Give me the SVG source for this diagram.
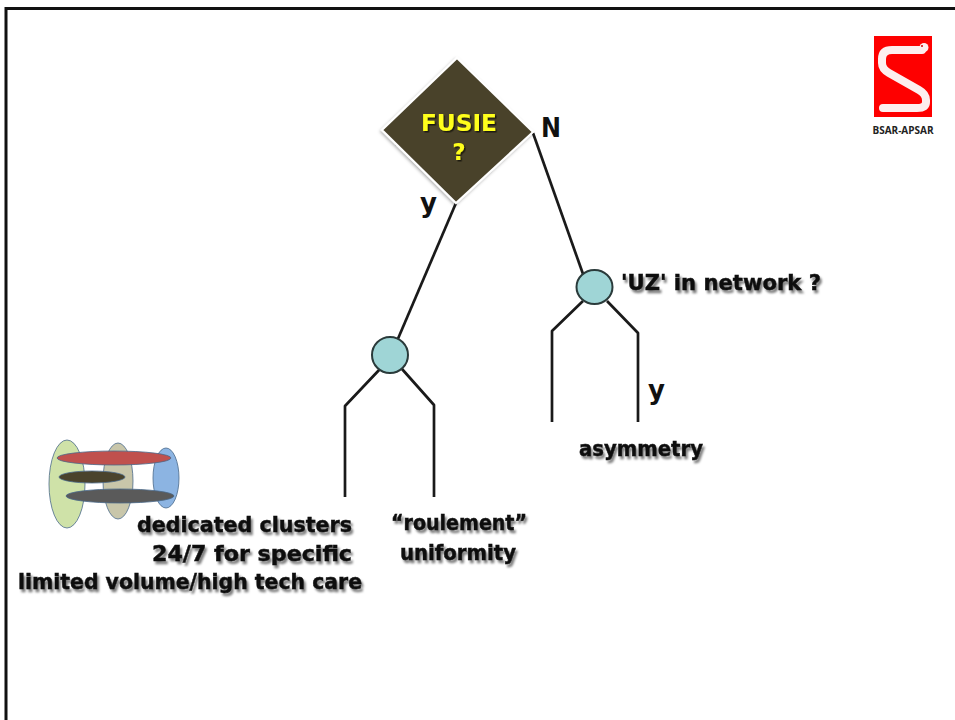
<svg xmlns="http://www.w3.org/2000/svg" width="955" height="720" viewBox="0 0 955 720">
<defs>
<style>
.line{fill:none;stroke:#1a1a1a;stroke-width:2.7;stroke-linejoin:round}
.t{font-family:"DejaVu Sans",sans-serif;font-weight:bold;font-size:22px;fill:#111;stroke:#111;stroke-width:.5;filter:url(#sh)}
.l{font-family:"DejaVu Sans",sans-serif;font-weight:bold;font-size:26px;fill:#111}
.f{font-family:"DejaVu Sans",sans-serif;font-weight:bold;font-size:23px;fill:#ffff1a;filter:url(#fs)}
.c{fill:#9fd5d6;stroke:#2a3a3a;stroke-width:2}
</style>
<filter id="sh" x="-5%" y="-30%" width="110%" height="170%"><feDropShadow dx="2" dy="3" stdDeviation="0.9" flood-color="#000" flood-opacity="0.5"/></filter>
<filter id="fs" x="-10%" y="-30%" width="120%" height="170%"><feDropShadow dx="1.500" dy="1.500" stdDeviation="0.7" flood-color="#000" flood-opacity="0.6"/></filter>
<filter id="dsh" x="-10%" y="-10%" width="120%" height="120%"><feDropShadow dx="-1" dy="1.500" stdDeviation="1.5" flood-color="#000" flood-opacity="0.3"/></filter>
</defs>
<rect id="frame" x="6" y="8.500" width="960" height="730" fill="#fff" stroke="#111" stroke-width="3"/>
<g id="connectors">
<path class="line" d="M456 203L397 341"/>
<path class="line" d="M533 133L583 274"/>
<path class="line" d="M380 369L345 406V497"/>
<path class="line" d="M402 369L434 405V497"/>
<path class="line" d="M583 301L552 331V422"/>
<path class="line" d="M607 301L638 333V422"/>
</g>
<g id="fusie">
<path d="M457 58L533 132L456 203L382 130Z" fill="#4a432c" stroke="#fff" stroke-width="2" filter="url(#dsh)"/>
<text class="f" x="421" y="131" textLength="76" lengthAdjust="spacingAndGlyphs">FUSIE</text>
<text class="f" x="459" y="160" text-anchor="middle">?</text>
</g>
<g id="node-left"><circle class="c" cx="390" cy="355" r="18"/></g>
<g id="node-right"><ellipse class="c" cx="594.500" cy="287" rx="18" ry="17"/></g>
<g id="labels">
<text class="l" x="541" y="137" textLength="20" lengthAdjust="spacingAndGlyphs">N</text>
<text class="l" x="420" y="212">y</text>
<text class="l" x="648" y="399">y</text>
<text class="t" x="621" y="290" textLength="200" lengthAdjust="spacingAndGlyphs">'UZ' in network ?</text>
<text class="t" x="579" y="456" textLength="124" lengthAdjust="spacingAndGlyphs">asymmetry</text>
<text class="t" x="391" y="530" textLength="136" lengthAdjust="spacingAndGlyphs">“roulement”</text>
<text class="t" x="400" y="560" textLength="116" lengthAdjust="spacingAndGlyphs">uniformity</text>
<text class="t" x="137" y="532" textLength="215" lengthAdjust="spacingAndGlyphs">dedicated clusters</text>
<text class="t" x="152" y="561" textLength="200" lengthAdjust="spacingAndGlyphs">24/7 for specific</text>
<text class="t" x="18" y="589" textLength="344" lengthAdjust="spacingAndGlyphs">limited volume/high tech care</text>
</g>
<g id="clusters" stroke="#4a6a8a" stroke-width="0.8">
<ellipse cx="67" cy="484" rx="18" ry="44" fill="#cfe2a8"/>
<ellipse cx="118" cy="481" rx="15" ry="38" fill="#c8c6aa"/>
<ellipse cx="166" cy="478" rx="13" ry="30" fill="#8cb4e2"/>
<ellipse cx="114" cy="458" rx="57" ry="7" fill="#c0504d"/>
<ellipse cx="92" cy="477" rx="33" ry="6" fill="#4a432c"/>
<ellipse cx="120" cy="496" rx="54" ry="7" fill="#5a5a5a"/>
</g>
<g id="logo">
<rect x="874" y="36" width="58" height="81" fill="#fe0000"/>
<path d="M922 50H892Q882 50 882 59V63Q882 69 889 73L919 90Q926 94 926 100V102Q926 108 917 108H883" fill="none" stroke="#fdeeee" stroke-width="8" stroke-linecap="round"/>
<circle cx="924" cy="47.500" r="4.500" fill="#fdeeee"/>
<circle cx="922" cy="46" r="1" fill="#c00"/>
<text x="903" y="134" text-anchor="middle" style="font-family:'Open Sans',sans-serif;font-weight:bold;font-size:10px;fill:#222">BSAR-APSAR</text>
</g>
</svg>
